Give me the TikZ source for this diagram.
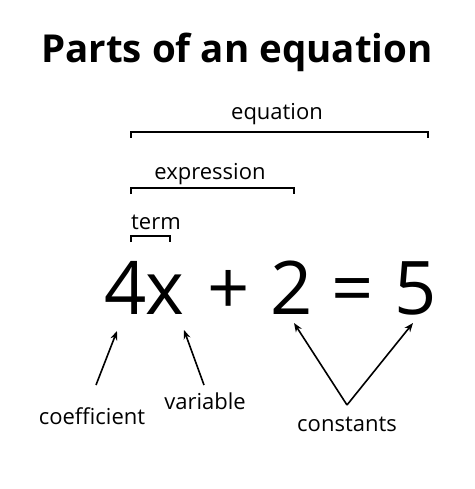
\documentclass[tikz,border=0pt]{standalone}
\usepackage{fontspec}
\setmainfont{Open Sans}
\usepackage{tikz}
\usetikzlibrary{arrows.meta, calc}
\tikzset{
  label/.style={font=\fontsize{22}{22}\selectfont, inner sep=0pt, anchor=base},
  symb/.style={font=\fontsize{74}{74}\selectfont, inner sep=0pt, anchor=base},
  brace/.style={line width=2pt},
  pointer/.style={-{Stealth[length=9pt, width=7pt]}, line width=1.6pt}
}

\begin{document}
\begin{tikzpicture}[x=1pt, y=-1pt]
    \useasboundingbox (0,0) rectangle (474,489);

    % Titre
    \node[font=\fontsize{38.5}{38.5}\selectfont\bfseries, inner sep=0pt, anchor=base] (title) at (237,63) {Parts of an equation};

    % Equation
    \node[symb] (four) at (126,314) {4};
    \node[symb] (x) at (165,314) {x};
    \node[symb] (plus) at (229,314) {+};
    \node[symb] (two) at (292,314) {2};
    \node[symb] (equal) at (353,314) {=};
    \node[symb] (five) at (416,314) {5};

    % Accolades du haut
    \node[label] (equation) at (277,120) {equation};
    \draw[brace] (131,138) -- (131,132) -- (428,132) -- (428,138);

    \node[label] (expression) at (210,179) {expression};
    \draw[brace] (131,194) -- (131,188) -- (294,188) -- (294,194);

    \node[label] (term) at (156,229) {term};
    \draw[brace] (131,242) -- (131,236) -- (170,236) -- (170,242);

    % Etiquettes du bas
    \node[label] (coef) at (92,424) {coefficient};
    \node[label] (var) at (205,409) {variable};
    \node[label] (const) at (347,431) {constants};

    % Fleches
    \draw[pointer] ($(coef.base)+(4,-39)$) -- ($(four.base)+(-9,17)$);
    \draw[pointer] ($(var.base)+(-1,-24)$) -- ($(x.base)+(19,16)$);
    \draw[pointer] ($(const.base)+(0,-26)$) -- ($(two.base)+(2,9)$);
    \draw[pointer] ($(const.base)+(0,-26)$) -- ($(five.base)+(-3,9)$);
\end{tikzpicture}
\end{document}
